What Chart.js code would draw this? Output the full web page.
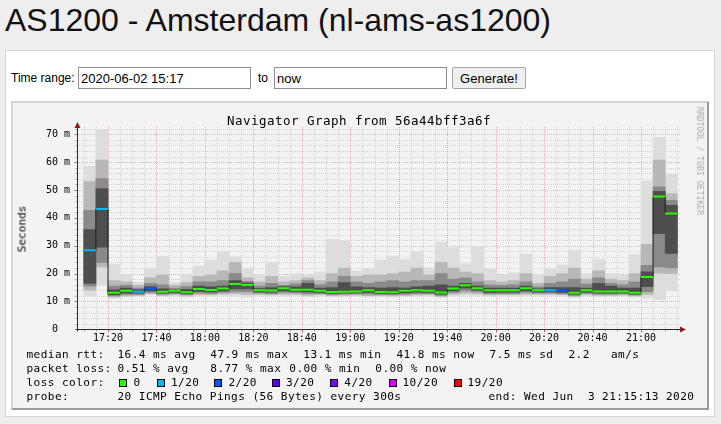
<!DOCTYPE html>
<html>
<head>
<meta charset="utf-8">
<title>AS1200 - Amsterdam (nl-ams-as1200)</title>
<script src="https://cdn.jsdelivr.net/npm/chart.js@4.4.1/dist/chart.umd.min.js"></script>
<style>
  html, body { margin:0; padding:0; width:721px; height:424px; overflow:hidden; background:#eeeeee; }
  body { position:relative; font-family:"Liberation Sans", Arial, sans-serif; color:#000; }
  .a { position:absolute; white-space:pre; }
  #title { left:5px; top:4px; font-size:32px; line-height:32px; color:#111; }
  #panel { left:5px; top:50px; width:710px; height:367px; background:#fff; border:1px solid #d6d6d6; box-sizing:border-box; }
  .lbl { font-size:12px; line-height:16px; }
  input.a { box-sizing:border-box; height:22px; border:1px solid #8d8d8d; font:13px "Liberation Sans", Arial, sans-serif; padding:0 2px; background:#fff; color:#000; margin:0; outline:none; }
  button.a { box-sizing:border-box; height:22px; border:1px solid #a6a6a6; border-radius:2px; background:#efefef; font:13px "Liberation Sans", Arial, sans-serif; padding:0; margin:0; color:#000; }
  #graph { left:11px; top:101px; width:698px; height:309px; background:#f3f3f3; box-sizing:border-box;
           border-top:2px solid #d4d4d4; border-left:2px solid #d4d4d4; border-right:2px solid #9a9a9a; border-bottom:2px solid #9a9a9a; }
  #c { position:absolute; left:11px; top:101px; width:698px; height:250px; }
  .mono { font-family:"DejaVu Sans Mono", monospace; }
  .lg { font-size:11.1px; letter-spacing:0.42px; line-height:14px; }
  .sw { position:absolute; width:8px; height:8px; box-sizing:border-box; border:1px solid #000; }
  .ctr { transform:translate(-50%,-50%); }
</style>
</head>
<body>
<div id="title" class="a">AS1200 - Amsterdam (nl-ams-as1200)</div>
<div id="panel" class="a"></div>
<div class="a lbl" style="left:11px;top:70px;">Time range:</div>
<input class="a" type="text" style="left:78px;top:67px;width:173px;" value="2020-06-02 15:17">
<div class="a lbl" style="left:258px;top:70px;">to</div>
<input class="a" type="text" style="left:274px;top:67px;width:173px;" value="now">
<button class="a" style="left:452px;top:67px;width:74px;">Generate!</button>
<div id="graph" class="a"></div>
<canvas id="c" width="698" height="250"></canvas>

<div class="a mono ctr" style="left:359px;top:120px;font-size:12.5px;letter-spacing:0.47px;line-height:15px;">Navigator Graph from 56a44bff3a6f</div>
<div class="a mono" style="left:21.5px;top:228.5px;font-size:11.1px;line-height:13px;transform:translate(-50%,-50%) rotate(-90deg);">Seconds</div>
<div class="a mono" style="left:699.5px;top:160.5px;font-size:8.2px;line-height:10px;color:#ababab;transform:translate(-50%,-50%) rotate(90deg);">RRDTOOL / TOBI OETIKER</div>

<div id="legend"></div>

<script>
// ---------- data ----------
const times = ["17:10","17:15","17:20","17:25","17:30","17:35","17:40","17:45","17:50","17:55",
               "18:00","18:05","18:10","18:15","18:20","18:25","18:30","18:35","18:40","18:45",
               "18:50","18:55","19:00","19:05","19:10","19:15","19:20","19:25","19:30","19:35",
               "19:40","19:45","19:50","19:55","20:00","20:05","20:10","20:15","20:20","20:25",
               "20:30","20:35","20:40","20:45","20:50","20:55","21:00","21:05","21:10"];
// smoke envelope (ms): outermost to innermost bands
const maxv = [58.5,71.8,23.3,19.5,16.9,22.0,26.2,16.9,19.5,22.7,24.8,28.0,26.0,21.6,19.7,23.8,19.0,20.0,19.5,20.5,
              32.3,31.9,20.9,21.9,24.8,26.3,25.1,27.8,22.0,31.2,29.2,23.5,29.8,21.6,19.4,20.3,26.9,19.5,21.6,23.1,
              28.4,20.0,25.2,20.0,19.4,26.7,53.1,68.8,55.6];
const hi2  = [53.0,60.7,17.5,17.0,15.8,18.5,19.5,15.8,16.8,19.0,19.5,21.0,24.0,18.5,17.0,19.0,17.0,17.5,18.5,17.5,
              20.0,22.0,19.0,19.5,19.5,20.0,20.5,22.0,19.5,24.0,22.0,20.5,20.0,17.5,17.0,17.5,20.0,16.5,19.0,20.0,
              22.0,18.0,21.0,18.0,17.5,20.0,30.5,60.7,48.7];
const hi3  = [42.7,54.1,15.5,15.8,14.8,16.5,16.0,14.8,15.3,17.0,17.0,17.5,20.0,17.2,15.5,16.5,15.8,16.3,17.5,16.0,
              17.0,19.0,17.0,16.5,17.0,17.5,17.0,17.5,17.5,20.0,18.0,18.5,17.0,16.0,15.8,16.0,17.0,15.2,16.5,17.0,
              18.0,16.2,18.5,16.5,16.0,17.0,23.0,51.1,46.3];
const hi4  = [35.8,50.5,14.2,14.8,14.2,15.3,14.5,14.2,14.3,15.5,15.2,15.5,17.5,16.6,14.6,15.0,15.3,15.2,16.5,14.8,
              15.0,16.8,15.2,15.0,14.8,15.0,14.8,15.2,15.5,16.0,15.5,16.5,15.5,14.8,14.8,14.8,15.5,14.5,15.0,15.0,
              15.0,14.8,16.5,15.5,14.8,14.8,20.6,49.5,44.5];
const med  = [28.4,43.2,13.1,13.8,13.5,14.6,13.5,13.8,13.3,14.5,14.1,14.6,16.3,15.9,14.0,13.9,14.7,14.2,14.2,13.8,
              13.4,13.5,13.6,14.0,13.4,13.3,13.8,14.0,13.8,13.2,14.6,15.8,14.7,14.0,14.0,14.0,14.7,14.0,14.0,14.0,
              13.1,14.0,13.6,13.6,13.6,13.1,18.8,47.7,41.6];
const lo4  = [16.5,29.5,12.4,13.0,13.0,13.8,13.0,13.2,12.8,13.6,13.4,13.8,14.5,14.5,13.4,13.3,13.8,13.6,13.4,13.2,
              12.9,13.0,13.1,13.2,12.9,12.8,13.1,13.3,13.2,12.6,13.8,14.8,14.0,13.2,13.3,13.3,13.8,13.4,13.4,13.2,
              12.6,13.3,13.0,13.0,13.1,12.6,15.3,34.3,27.2];
const lo3  = [15.5,24.0,12.0,12.5,12.5,13.2,12.6,12.8,12.4,13.0,12.9,13.2,13.5,13.5,13.0,12.8,13.2,13.1,12.8,12.8,
              12.5,12.6,12.7,12.6,12.5,12.4,12.6,12.8,12.8,12.2,13.2,13.8,13.4,12.8,12.8,12.8,13.2,13.0,13.0,12.8,
              12.2,12.9,12.6,12.6,12.7,12.3,13.5,22.4,22.0];
const lo2  = [14.0,22.4,11.6,12.0,12.2,12.8,12.2,12.4,12.0,12.5,12.4,12.7,12.8,12.5,12.6,12.4,12.6,12.6,12.2,12.4,
              12.1,12.2,12.3,12.1,12.1,12.0,12.2,12.3,12.4,11.8,12.6,13.0,12.8,12.3,12.4,12.4,12.6,12.6,12.6,12.4,
              11.8,12.5,12.2,12.2,12.3,12.0,12.5,20.1,20.0];
const minv = [12.0,15.8,11.2,11.6,11.8,12.3,11.8,12.0,11.6,12.0,12.0,12.2,12.0,11.5,12.2,12.0,12.0,12.2,11.6,12.0,
              11.7,11.8,11.9,11.5,11.7,11.6,11.8,11.9,12.0,11.4,12.0,12.2,12.2,11.8,12.0,12.0,12.0,12.2,12.2,12.0,
              11.4,12.1,11.8,11.8,11.9,11.6,11.2,10.6,14.0];
// lost pings out of 20 per interval
const loss = [1,1,0,0,1,2,0,0,0,0, 0,0,0,0,0,0,0,0,0,0, 0,0,0,0,0,0,0,0,0,0, 0,0,0,0,0,0,0,0,1,2, 0,0,0,0,0,0,0,0,0];
const lossLevels = [0, 1, 2, 3, 4, 10, 19];
const lossLabels = ["0", "1/20", "2/20", "3/20", "4/20", "10/20", "19/20"];
const lossColors = ["#26ff00", "#00b8ff", "#0059ff", "#5e00ff", "#7e00ff", "#dd00ff", "#ff0000"];
const xTickLabels = ["17:20","17:40","18:00","18:20","18:40","19:00","19:20","19:40","20:00","20:20","20:40","21:00"];
const yTickValues = [0, 10, 20, 30, 40, 50, 60, 70];
const yTickLabels = ["\u00a00", "10 m", "20 m", "30 m", "40 m", "50 m", "60 m", "70 m"];

// ---------- axis configuration ----------
const STEP_MIN = 5;                 // one smoke column per 300 s
const X_MIN = 1027.2, X_MAX = 1276.1; // minutes of day shown
const Y_MAX = 72.6;
const X_MINOR = 5, X_MAJOR = 20, Y_MINOR = 2, Y_MAJOR = 10;

const toMin = t => { const p = t.split(":"); return (+p[0]) * 60 + (+p[1]); };
const starts = times.map(toMin);
const colorFor = n => { let c = lossColors[0]; lossLevels.forEach((l, k) => { if (n >= l) c = lossColors[k]; }); return c; };

function band(lo, hi, color, order) {
  return {
    type: "bar", order,
    data: starts.map((s, i) => ({ x: s + STEP_MIN / 2, y: [lo[i], hi[i]] })),
    backgroundColor: color, borderWidth: 0, borderSkipped: false, grouped: false,
    categoryPercentage: 1, barPercentage: 1
  };
}

const datasets = [
  band(minv, maxv, "#dddddd", 10),
  band(lo2, hi2, "#b8b8b8", 9),
  band(lo3, hi3, "#8a8a8a", 8),
  band(lo4, hi4, "#4e4e4e", 7),
  {
    type: "line", order: 2,
    data: starts.map((s, i) => ({ x: s, y: med[i] })).concat([{ x: starts[starts.length - 1] + STEP_MIN, y: med[med.length - 1] }]),
    stepped: "before", borderColor: "#202020", borderWidth: 1, pointRadius: 0, fill: false
  }
].concat(starts.map((s, i) => ({
  type: "line", order: 1,
  data: [{ x: s, y: med[i] }, { x: s + STEP_MIN, y: med[i] }],
  borderColor: colorFor(loss[i]), borderWidth: 2, pointRadius: 0, fill: false, borderCapStyle: "butt"
})));

// ---------- rrdtool-like grid, axes and arrows ----------
const rrdGrid = {
  id: "rrdGrid",
  beforeDatasetsDraw(chart) {
    const { ctx, chartArea: a, scales: { x, y } } = chart;
    ctx.save();
    ctx.lineWidth = 1;
    ctx.setLineDash([1, 1]);
    const minorCol = "rgba(175,175,175,0.45)";
    const majorCol = "rgba(250,80,80,0.45)";
    const pass = (major) => {
      ctx.strokeStyle = major ? majorCol : minorCol;
      for (let v = Y_MINOR; v <= Y_MAX; v += Y_MINOR) {
        if ((v % Y_MAJOR === 0) !== major) continue;
        const py = Math.round(y.getPixelForValue(v)) + 0.5;
        ctx.beginPath(); ctx.moveTo(a.left, py); ctx.lineTo(a.right, py); ctx.stroke();
      }
      for (let m = Math.ceil(X_MIN / X_MINOR) * X_MINOR; m <= X_MAX; m += X_MINOR) {
        if ((m % X_MAJOR === 0) !== major) continue;
        const px = Math.round(x.getPixelForValue(m)) + 0.5;
        ctx.beginPath(); ctx.moveTo(px, a.top); ctx.lineTo(px, a.bottom); ctx.stroke();
      }
    };
    pass(false); pass(true);
    ctx.restore();
  },
  afterDatasetsDraw(chart) {
    const { ctx, chartArea: a, scales: { x, y } } = chart;
    const x0 = Math.round(a.left) + 0.5;
    const y0 = Math.round(y.getPixelForValue(0)) + 0.5;
    ctx.save();
    ctx.lineWidth = 1;
    // tick marks
    for (let v = Y_MINOR; v <= Y_MAX; v += Y_MINOR) {
      const major = v % Y_MAJOR === 0;
      const py = Math.round(y.getPixelForValue(v)) + 0.5;
      ctx.strokeStyle = major ? "#d06060" : "#a8a8a8";
      ctx.beginPath(); ctx.moveTo(x0 - (major ? 3 : 2), py); ctx.lineTo(x0, py); ctx.stroke();
    }
    for (let m = Math.ceil(X_MIN / X_MINOR) * X_MINOR; m <= X_MAX; m += X_MINOR) {
      const major = m % X_MAJOR === 0;
      const px = Math.round(x.getPixelForValue(m)) + 0.5;
      ctx.strokeStyle = major ? "#d06060" : "#a8a8a8";
      ctx.beginPath(); ctx.moveTo(px, y0); ctx.lineTo(px, y0 + (major ? 3 : 2)); ctx.stroke();
    }
    // axis lines
    ctx.strokeStyle = "#2a2a2a";
    ctx.beginPath(); ctx.moveTo(x0, y0 + 2); ctx.lineTo(x0, a.top - 2); ctx.stroke();
    ctx.beginPath(); ctx.moveTo(x0 - 2, y0); ctx.lineTo(a.right + 2, y0); ctx.stroke();
    // arrows
    ctx.fillStyle = "#8e1a1a";
    ctx.beginPath(); ctx.moveTo(x0, a.top - 5); ctx.lineTo(x0 - 3, a.top + 1); ctx.lineTo(x0 + 3, a.top + 1); ctx.closePath(); ctx.fill();
    ctx.beginPath(); ctx.moveTo(a.right + 6, y0); ctx.lineTo(a.right, y0 - 3); ctx.lineTo(a.right, y0 + 3); ctx.closePath(); ctx.fill();
    ctx.restore();
  }
};

Chart.defaults.font.family = "'DejaVu Sans Mono', monospace";
Chart.defaults.color = "#000";

new Chart(document.getElementById("c"), {
  type: "bar",
  data: { datasets },
  options: {
    responsive: false,
    animation: false,
    devicePixelRatio: 1,
    layout: { padding: { left: 35, right: 29, top: 26, bottom: 0 } },
    plugins: { legend: { display: false }, tooltip: { enabled: false }, title: { display: false } },
    scales: {
      x: {
        type: "linear", min: X_MIN, max: X_MAX, offset: false,
        grid: { display: false, drawTicks: false }, border: { display: false },
        ticks: { font: { size: 10 }, color: "#000", padding: 3, maxRotation: 0, autoSkip: false,
                 callback: (v, i) => xTickLabels[i] },
        afterBuildTicks: s => { s.ticks = xTickLabels.map(t => ({ value: toMin(t) })); },
        afterFit: s => { s.height = 21.7; }
      },
      y: {
        type: "linear", min: 0, max: Y_MAX,
        grid: { display: false, drawTicks: false }, border: { display: false },
        ticks: { font: { size: 10 }, color: "#000", padding: 6, autoSkip: false, crossAlign: "far",
                 callback: (v, i) => yTickLabels[i] },
        afterBuildTicks: s => { s.ticks = yTickValues.map(v => ({ value: v })); },
        afterFit: s => { s.width = 31; }
      }
    }
  },
  plugins: [rrdGrid]
});

// ---------- rrdtool legend (text) ----------
const legendRows = [
  { y: 355, items: [["median rtt:", 26.5], ["16.4 ms avg", 117.5], ["47.9 ms max", 210.3], ["13.1 ms min", 303.3],
                    ["41.8 ms now", 396.5], ["7.5 ms sd", 489.5], ["2.2", 568.5], ["am/s", 611]] },
  { y: 369, items: [["packet loss:", 26.5], ["0.51 % avg", 117.5], ["8.77 % max", 210.3], ["0.00 % min", 289.3], ["0.00 % now", 375.3]] },
  { y: 383, items: [["loss color:", 26.5]] },
  { y: 397, items: [["probe:", 26.5], ["20 ICMP Echo Pings (56 Bytes) every 300s", 117.5], ["end: Wed Jun  3 21:15:13 2020", 488.5]] }
];
const swatchX = [119, 157, 214, 272, 330, 389, 454];
const swatchLabelX = [133.5, 171, 228.5, 286, 344.3, 402.5, 467.5];
const leg = document.getElementById("legend");
legendRows.forEach(r => r.items.forEach(([t, x]) => {
  const d = document.createElement("div");
  d.className = "a mono lg";
  d.style.left = x + "px"; d.style.top = (r.y - 7) + "px";
  d.textContent = t; leg.appendChild(d);
}));
lossLabels.forEach((t, k) => {
  const s = document.createElement("div");
  s.className = "sw"; s.style.left = swatchX[k] + "px"; s.style.top = "379px"; s.style.background = lossColors[k];
  leg.appendChild(s);
  const d = document.createElement("div");
  d.className = "a mono lg"; d.style.left = swatchLabelX[k] + "px"; d.style.top = (383 - 7) + "px";
  d.textContent = t; leg.appendChild(d);
});
</script>
</body>
</html>
